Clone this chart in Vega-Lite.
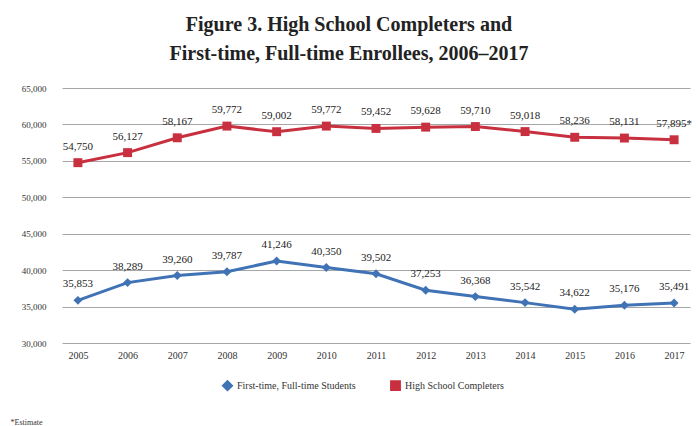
{
  "$schema": "https://vega.github.io/schema/vega-lite/v6.json",
  "autosize": {"type": "none"},
  "width": 628,
  "height": 255,
  "padding": {"left": 62, "top": 88, "right": 8, "bottom": 83},
  "background": "white",
  "title": {
    "text": ["Figure 3. High School Completers and", "First-time, Full-time Enrollees, 2006–2017"],
    "font": "Liberation Serif",
    "fontSize": 20,
    "fontWeight": "bold",
    "color": "#222222",
    "lineHeight": 29,
    "anchor": "middle",
    "frame": "group",
    "offset": 20,
    "dx": -27
  },
  "data": {
    "values": [
      {"year": "2005", "series": "First-time, Full-time Students", "value": 35853, "label": "35,853"},
      {"year": "2006", "series": "First-time, Full-time Students", "value": 38289, "label": "38,289"},
      {"year": "2007", "series": "First-time, Full-time Students", "value": 39260, "label": "39,260"},
      {"year": "2008", "series": "First-time, Full-time Students", "value": 39787, "label": "39,787"},
      {"year": "2009", "series": "First-time, Full-time Students", "value": 41246, "label": "41,246"},
      {"year": "2010", "series": "First-time, Full-time Students", "value": 40350, "label": "40,350"},
      {"year": "2011", "series": "First-time, Full-time Students", "value": 39502, "label": "39,502"},
      {"year": "2012", "series": "First-time, Full-time Students", "value": 37253, "label": "37,253"},
      {"year": "2013", "series": "First-time, Full-time Students", "value": 36368, "label": "36,368"},
      {"year": "2014", "series": "First-time, Full-time Students", "value": 35542, "label": "35,542"},
      {"year": "2015", "series": "First-time, Full-time Students", "value": 34622, "label": "34,622"},
      {"year": "2016", "series": "First-time, Full-time Students", "value": 35176, "label": "35,176"},
      {"year": "2017", "series": "First-time, Full-time Students", "value": 35491, "label": "35,491"},
      {"year": "2005", "series": "High School Completers", "value": 54750, "label": "54,750"},
      {"year": "2006", "series": "High School Completers", "value": 56127, "label": "56,127"},
      {"year": "2007", "series": "High School Completers", "value": 58167, "label": "58,167"},
      {"year": "2008", "series": "High School Completers", "value": 59772, "label": "59,772"},
      {"year": "2009", "series": "High School Completers", "value": 59002, "label": "59,002"},
      {"year": "2010", "series": "High School Completers", "value": 59772, "label": "59,772"},
      {"year": "2011", "series": "High School Completers", "value": 59452, "label": "59,452"},
      {"year": "2012", "series": "High School Completers", "value": 59628, "label": "59,628"},
      {"year": "2013", "series": "High School Completers", "value": 59710, "label": "59,710"},
      {"year": "2014", "series": "High School Completers", "value": 59018, "label": "59,018"},
      {"year": "2015", "series": "High School Completers", "value": 58236, "label": "58,236"},
      {"year": "2016", "series": "High School Completers", "value": 58131, "label": "58,131"},
      {"year": "2017", "series": "High School Completers", "value": 57895, "label": "57,895*"}
    ]
  },
  "encoding": {
    "x": {
      "field": "year", "type": "ordinal",
      "scale": {"type": "point", "padding": 0.32},
      "axis": {
        "title": "*Estimate",
        "titleFont": "Liberation Serif", "titleFontSize": 8, "titleFontWeight": "normal", "titleColor": "#333333",
        "titleAnchor": "start", "titleX": -52, "titleY": 75,
        "labelAngle": 0, "labelFont": "Liberation Serif", "labelFontSize": 10, "labelColor": "#333333",
        "labelPadding": 7, "ticks": false, "domain": false, "grid": false
      }
    },
    "y": {
      "field": "value", "type": "quantitative",
      "scale": {"domain": [30000, 65000], "nice": false, "zero": false},
      "axis": {
        "title": null, "values": [30000, 35000, 40000, 45000, 50000, 55000, 60000, 65000],
        "format": ",.0f", "labelFont": "Liberation Serif", "labelFontSize": 9, "labelColor": "#333333",
        "labelPadding": 16, "ticks": false, "domain": false,
        "grid": true, "gridColor": "#a6a6a6", "gridWidth": 1.2
      }
    },
    "color": {
      "field": "series", "type": "nominal",
      "scale": {"domain": ["First-time, Full-time Students", "High School Completers"], "range": ["#3f73b6", "#c8303f"]},
      "legend": {
        "title": null, "orient": "none", "direction": "horizontal",
        "legendX": 160, "legendY": 292,
        "labelFont": "Liberation Serif", "labelFontSize": 10, "labelColor": "#333333",
        "symbolSize": 70, "columnPadding": 30, "symbolStrokeWidth": 2.5
      }
    }
  },
  "layer": [
    {
      "mark": {"type": "line", "strokeWidth": 3},
      "encoding": {"detail": {"field": "series"}}
    },
    {
      "mark": {"type": "point", "filled": true, "size": 80, "opacity": 1},
      "encoding": {
        "shape": {
          "field": "series", "type": "nominal",
          "scale": {"domain": ["First-time, Full-time Students", "High School Completers"], "range": ["diamond", "square"]},
          "legend": null
        }
      }
    },
    {
      "mark": {"type": "text", "font": "Liberation Serif", "fontSize": 11, "color": "#222222", "dy": -16},
      "encoding": {"text": {"field": "label"}, "color": {"value": "#222222"}}
    }
  ],
  "config": {"view": {"stroke": null}}
}
